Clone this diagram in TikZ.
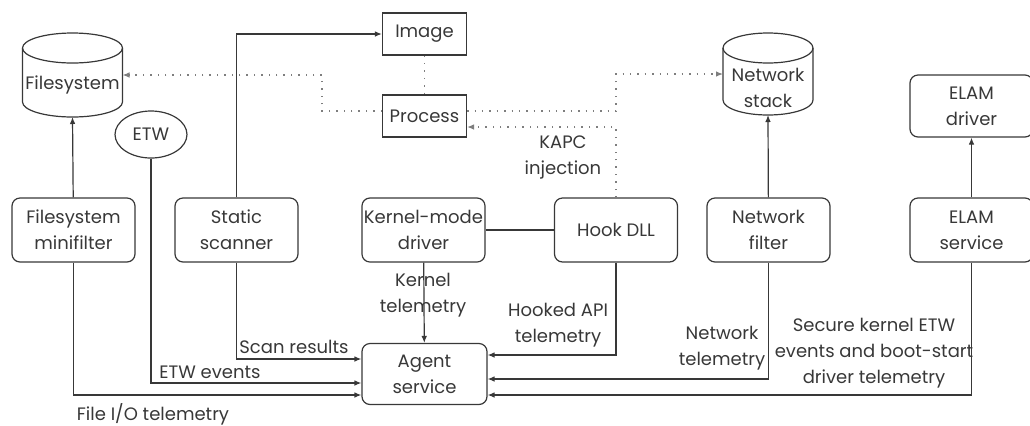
\documentclass[tikz,border=0pt]{standalone}
\usepackage{fontspec}
\setmainfont{Poppins}
\usetikzlibrary{shapes.geometric,arrows.meta}
\definecolor{ink}{gray}{0.22}
\tikzset{every path/.style={ink,line width=0.6pt},
  every node/.style={font=\fontsize{9}{13}\selectfont, text=ink, align=center, inner sep=1pt},
  comp/.style={draw,rounded corners=4pt,minimum width=61.5pt,minimum height=32pt},
  obj/.style={draw,minimum width=42pt,minimum height=21pt},
  store/.style={inner sep=0pt},
  tip/.style={-{Latex[length=3.5pt,width=2.8pt]}},
  inj/.style={ink!65,dash pattern=on 0.7pt off 3pt}}
% drum round a store node: name, x radius, top and bottom of the sides from the text centre
\newcommand\storedrum[4]{%
  \draw ([shift={(-#2,#3)}]#1.center) -- ([shift={(-#2,-#4)}]#1.center)
    arc[start angle=180,end angle=360,x radius=#2,y radius=7.5pt] -- ([shift={(#2,#3)}]#1.center);
  \draw ([yshift=#3]#1.center) ellipse[x radius=#2,y radius=7.5pt];
  \coordinate (#1-bot) at ([yshift=-#4-7.5pt]#1.center);
  \coordinate (#1-e) at ([shift={({#2},{(#3-#4)/2})}]#1.center);
  \coordinate (#1-w) at ([shift={({-#2},{(#3-#4)/2})}]#1.center);
}

\begin{document}
\begin{tikzpicture}[x=0.5pt,y=-0.5pt]
 \useasboundingbox (0,0) rectangle (1030,425);
 % sensors
 \node[comp] (fsm) at (73.5,230) {Filesystem\\minifilter};
 \node[comp] (scan) at (236.5,230) {Static\\scanner};
 \node[comp] (kmd) at (423.5,230) {Kernel-mode\\driver};
 \node[comp] (hook) at (616,230) {Hook DLL};
 \node[comp] (nfilt) at (768.5,230) {Network\\filter};
 \node[comp] (esvc) at (971.5,230) {ELAM\\service};
 \node[comp,minimum height=31pt] (edrv) at (971.5,106) {ELAM\\driver};
 \node[comp,minimum width=62.5pt,minimum height=30.5pt] (agent) at (424.5,374) {Agent\\service};
 % what they watch
 \node[store] (fs) at (72.5,85) {Filesystem};
 \storedrum{fs}{25pt}{18.5pt}{8.5pt}
 \node[store] (nstack) at (768,87.5) {Network\\stack};
 \storedrum{nstack}{22.5pt}{19.75pt}{6.25pt}
 \node[draw,ellipse,minimum width=36pt,minimum height=23.5pt,inner sep=0pt] (etw) at (151,134.5) {ETW};
 \node[obj] (img) at (424.5,34) {Image};
 \node[obj] (proc) at (424.5,116) {Process};

 \draw[tip] (fsm) -- (fs-bot);
 \draw[tip] (nfilt) -- (nstack-bot);
 \draw[tip] (esvc) -- (edrv);
 \draw[tip] (kmd) -- (agent);
 \draw (kmd) -- (hook);
 \draw[tip] (scan) |- (img);
 \draw[tip] (scan) |- ([yshift=7.5pt]agent.west);
 \draw[tip] (etw) |- ([yshift=-4.5pt]agent.west);
 \draw[tip] (fsm) |- ([yshift=-10.5pt]agent.west);
 \draw[tip] (hook) |- ([yshift=9.5pt]agent.east);
 \draw[tip] (nfilt) |- ([yshift=-2.5pt]agent.east);
 \draw[tip] (esvc) |- ([yshift=-10.5pt]agent.east);
 % dotted: process, filesystem and network
 \coordinate (fsx) at (322,0);
 \draw[inj] (img) -- (proc);
 \draw[inj,tip] ([yshift=2.5pt]proc.west) -| (fsx |- fs-e) -- (fs-e);
 \draw[inj,tip] ([yshift=2.5pt]proc.east) -| (hook.north |- nstack-w) -- (nstack-w);
 \draw[inj,tip] (hook.north) |- ([yshift=-5.5pt]proc.east);

 \node (lkapc) at (563,157) {KAPC\\injection};
 \node (lscan) at (294,347) {Scan results};
 \node (letw) at (210,372) {ETW events};
 \node (lfio) at (153,414) {File I/O telemetry};
 \node (lkern) at (423,295) {Kernel\\telemetry};
 \node (lhook) at (558,325) {Hooked API\\telemetry};
 \node (lnet) at (722,348) {Network\\telemetry};
 \node (lelam) at (874,353) {Secure kernel ETW\\events and boot-start\\driver telemetry};
\end{tikzpicture}
\end{document}
